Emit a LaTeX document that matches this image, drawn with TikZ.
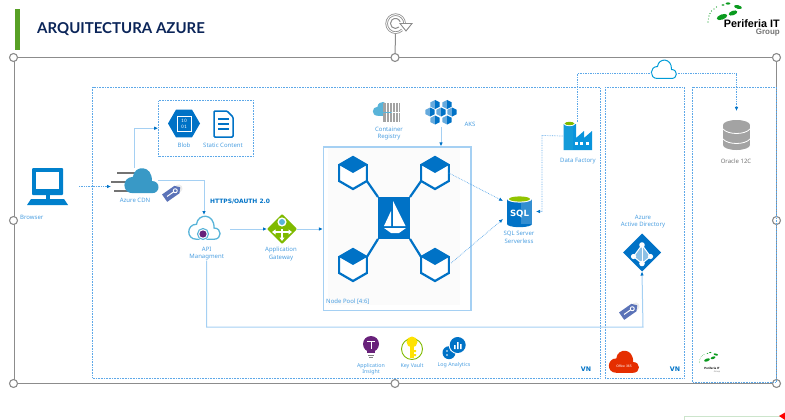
\documentclass[tikz,border=0pt]{standalone}
\usepackage{fontspec}
\setmainfont{Noto Sans}
\newfontfamily\titlefont{Lato}
\newfontfamily\logofont{Liberation Sans}
\newfontfamily\widefont{DejaVu Sans}
\usetikzlibrary{arrows.meta,calc,shapes.geometric}

\definecolor{azblue}{HTML}{0072C6}
\definecolor{azlabel}{HTML}{4A9EE0}
\definecolor{wirelight}{HTML}{A5D0F3}
\definecolor{dotblue}{HTML}{5DA8E8}
\definecolor{framegrey}{HTML}{8C8C8C}
\definecolor{navy}{HTML}{0B2559}
\definecolor{barlime}{HTML}{57A025}
\definecolor{azgreen}{HTML}{7FBA00}
\definecolor{azcloud}{HTML}{3999C6}
\definecolor{azsky}{HTML}{59B4D9}
\definecolor{azpurple}{HTML}{68217A}
\definecolor{tagblue}{HTML}{5B73B8}
\definecolor{logogreen}{HTML}{0A9A1E}
\definecolor{dbgrey}{HTML}{A3A3A3}

\tikzset{
	iconbox/.style={inner sep=0, outer sep=0},
	lbl/.style={inner sep=0, align=center, text=azlabel, font=\fontsize{6}{7.5}\selectfont},
	zone/.style={draw=dotblue, densely dotted, line width=0.6pt},
	wire/.style={draw=wirelight, line width=1pt, -{Latex[length=4pt,width=3.5pt,color=azblue]}},
	dotwire/.style={draw=dotblue, densely dotted, line width=0.7pt, -{Latex[length=4pt,width=3.5pt,color=azblue]}},
	handle/.style={circle, draw=framegrey, fill=white, line width=1.1pt, minimum size=8pt, inner sep=0},
	cube/.style={regular polygon, regular polygon sides=6, shape border rotate=30, minimum size=32pt, inner sep=0, outer sep=0, draw=azblue, fill=white, line width=2.2pt},
}

\def\cloudshape{(-6,9) -- (8,9) .. controls (14.5,9) and (14.5,0) .. (8,0) .. controls (8.5,-12) and (-5,-12) .. (-6,-3) .. controls (-14,-3) and (-14.5,9) .. (-6,9) -- cycle}
\def\cubetop#1{\fill[azblue] (#1.90) -- (#1.30) -- (#1.center) -- (#1.150) -- cycle;}
\def\tagicon(#1,#2){
	\begin{scope}[shift={(#1,#2)},rotate=35]
		\fill[black!8] (8,0) circle (4);
		\fill[tagblue] (-9,-4.5) -- (6,-4.5) -- (10,0) -- (6,4.5) -- (-9,4.5) -- cycle;
		\draw[white, line width=1pt] (-6,0) -- (2,0);
		\draw[white, line width=0.9pt] (4,0) circle (2);
	\end{scope}
}
\def\periferia(#1,#2)[#3]{
	\begin{scope}[shift={(#1,#2)},scale=#3]
		\fill[logogreen, rotate around={20:(0,0)}] (0,0) ellipse [x radius=5.5, y radius=2.6];
		\fill[logogreen, rotate around={20:(11,-4)}] (11,-4) ellipse [x radius=4.5, y radius=2.2];
		\fill[logogreen, rotate around={-15:(16,-10)}] (16,-10) ellipse [x radius=4, y radius=1.8];
		\fill[logogreen] (6,-13.5) ellipse [x radius=2.4, y radius=1.1];
		\fill[logogreen] (1,-12) ellipse [x radius=1.6, y radius=0.8];
		\foreach \px/\py in {-14/5,-13.6/2,-13/-1,-12/-3.5,-10.5/-6,-8/-8,-5.5/-10}
			\fill[logogreen] (\px,\py) circle (0.55);
	\end{scope}
}

\begin{document}
\begin{tikzpicture}[x=1pt,y=-1pt]
	%%%%% START %%%%%
	\useasboundingbox (0,0) rectangle (785,420);
	
	% header
	\fill[barlime] (15,9) rectangle (20,50);
	\node[inner sep=0, anchor=west, text=navy, font=\titlefont\bfseries\fontsize{15}{18}\selectfont] (title) at (37,29.5) {ARQUITECTURA AZURE};
	\periferia(722,17)[1]
	\node[inner sep=0, anchor=east, font=\logofont\bfseries\fontsize{10.8}{12}\selectfont] (logoName) at (780,24) {Periferia IT};
	\node[inner sep=0, anchor=east, text=black!55, font=\logofont\bfseries\fontsize{8}{9}\selectfont] (logoGroup) at (780,33) {Group};
	
	% selection frame
	\node[draw=framegrey, line width=1pt, minimum width=762pt, minimum height=325pt, inner sep=0] (frame) at (395,220.5) {};
	\node[iconbox, minimum size=19pt] (rotator) at (395.5,23.5) {};
	\draw[framegrey, line width=1pt] (rotator.south) -- (frame.north);
	\draw[draw=black!45, double=white, double distance=0.9pt, line width=0.8pt] (402,30) arc (45:360:9);
	\draw[draw=black!45, line width=1pt] (399,27) arc (45:340:5);
	\fill[white, draw=black!45, line width=0.9pt] (400,23.5) -- (412,23.5) -- (406,31) -- cycle;
	\foreach \hname/\hpos in {hA/north west,hB/north,hC/north east,hD/west,hE/east,hF/south west,hG/south,hH/south east}
		\node[handle] (\hname) at (frame.\hpos) {};
	
	% zones
	\draw[zone] (92.5,87) rectangle (600,378);
	\draw[zone] (605,87) rectangle (684,378);
	\draw[zone] (692,87) rectangle (776,382);
	\node[zone, minimum width=95pt, minimum height=55.5pt, inner sep=0] (storage) at (206,128.25) {};
	\node[inner sep=0, text=azblue, font=\widefont\bfseries\fontsize{6.3}{8}\selectfont] (vnA) at (586,369) {VN};
	\node[inner sep=0, text=azblue, font=\widefont\bfseries\fontsize{6.3}{8}\selectfont] (vnB) at (675,369) {VN};
	
	% browser
	\node[iconbox, minimum width=41pt, minimum height=37pt] (browser) at (47.5,186.5) {};
	\fill[azblue!90!cyan, rounded corners=1pt] (32,168) rectangle (63,195);
	\fill[white] (36,172) rectangle (59,189);
	\fill[azblue!90!cyan] (46,194) rectangle (50,199);
	\fill[azblue!90!cyan] (31,199) -- (64,199) -- (68,205) -- (27,205) -- cycle;
	\node[lbl, anchor=west] (browserLbl) at (20,217) {Browser};
	
	% cdn
	\node[iconbox, minimum width=47pt, minimum height=25pt] (cdn) at (134.5,180.5) {};
	\draw[black!55, line width=2.4pt] (117,173) -- (136,173);
	\draw[black!55, line width=2.4pt] (111,182) -- (128,182);
	\draw[black!55, line width=2.4pt] (114,191) -- (130,191);
	\begin{scope}[shift={(141,181)},scale=1.36]
		\fill[azcloud] \cloudshape;
	\end{scope}
	\node[lbl] (cdnLbl) at (135,200) {Azure CDN};
	\tagicon(172,193)
	\node[inner sep=0, anchor=west, text=azblue, font=\widefont\bfseries\fontsize{5.95}{7}\selectfont] (httpsLbl) at (210,202) {HTTPS/OAUTH 2.0};
	
	% storage
	\node[regular polygon, regular polygon sides=6, minimum size=32pt, inner sep=0, fill=azblue] (blob) at (184,123.5) {};
	\draw[white, line width=0.7pt] (177,116) rectangle (191,131.5);
	\node[inner sep=0, align=center, text=white, font=\ttfamily\fontsize{5.5}{6}\selectfont] (blobBits) at (184,123.5) {10\\01};
	\node[lbl] (blobLbl) at (184,145.5) {Blob};
	\node[iconbox, minimum width=20pt, minimum height=28pt] (static) at (223,124) {};
	\draw[azblue, fill=white, line width=1.5pt, rounded corners=1pt] (214,111) -- (227,111) -- (233,117) -- (233,137) -- (214,137) -- cycle;
	\foreach \ly in {119,124,129}
		\draw[azblue, line width=1.4pt] (218,\ly) -- (229,\ly);
	\node[lbl] (staticLbl) at (223,145.5) {Static Content};
	
	% api
	\node[iconbox, minimum width=32pt, minimum height=28pt] (api) at (204,229) {};
	\begin{scope}[shift={(204,228)},scale=1.25]
		\draw[azsky, line width=1.3pt] \cloudshape;
	\end{scope}
	\fill[white] (203,234) circle (6.5);
	\draw[azsky, line width=1.1pt] (203,234) circle (5.5);
	\fill[azpurple] (203,234) circle (3.6);
	\node[lbl] (apiLbl) at (206.7,253.7) {API\\Managment};
	
	% gateway
	\node[diamond, fill=azgreen, minimum size=30pt, inner sep=0, outer sep=0, rounded corners=1pt] (gateway) at (282,229) {};
	\draw[white, line width=1.5pt, -{Triangle[length=3.5pt,width=5pt]}] (282,229) -- (282,241);
	\draw[white, line width=1.5pt, -{Triangle[length=3.5pt,width=5pt]}] (282,232) -- (272,232);
	\draw[white, line width=1.5pt, -{Triangle[length=3.5pt,width=5pt]}] (282,232) -- (292,232);
	\fill[white] (282,222) circle (4.6);
	\fill[azsky] (282,222) circle (3);
	\node[lbl] (gatewayLbl) at (281,253.7) {Application\\Gateway};
	
	% node pool
	\fill[black!1.5] (328,148) rectangle (460,305);
	\node[draw=wirelight, line width=1.1pt, minimum width=147.5pt, minimum height=163.5pt, inner sep=0] (pool) at (397.25,228.75) {};
	\node[fill=azblue, minimum width=32pt, minimum height=42pt, inner sep=0, outer sep=0] (istio) at (394,218) {};
	\node[cube] (cubeTL) at (353,173) {};
	\node[cube] (cubeTR) at (435,173) {};
	\node[cube] (cubeBL) at (353,265) {};
	\node[cube] (cubeBR) at (435,265) {};
	\cubetop{cubeTL}
	\cubetop{cubeTR}
	\cubetop{cubeBL}
	\cubetop{cubeBR}
	\draw[azblue, line width=2.2pt] (istio.north west) -- (cubeTL.330);
	\draw[azblue, line width=2.2pt] (istio.north east) -- (cubeTR.210);
	\draw[azblue, line width=2.2pt] (istio.south west) -- (cubeBL.30);
	\draw[azblue, line width=2.2pt] (istio.south east) -- (cubeBR.150);
	\fill[white] (393,201) -- (405.5,226) -- (393,226) -- cycle;
	\fill[white] (391,211) -- (391,226) -- (384,226) -- cycle;
	\fill[white] (384,228) -- (406,228) -- (399,233) -- (391,233) -- cycle;
	\node[lbl, anchor=west] (poolLbl) at (326,302) {Node Pool [4:6]};
	
	% registry and aks
	\node[iconbox, minimum width=27pt, minimum height=24pt] (registry) at (386.5,110) {};
	\begin{scope}[shift={(382,109)},scale=0.75]
		\fill[azsky] \cloudshape;
	\end{scope}
	\fill[dbgrey] (383,103) rectangle (400,112);
	\fill[dbgrey] (383,113) rectangle (400,122);
	\foreach \sx in {386,389,392,395,398}
		\draw[white, line width=0.4pt] (\sx,103) -- (\sx,112) (\sx,113) -- (\sx,122);
	\node[lbl] (registryLbl) at (389,133.5) {Container\\Registry};
	
	\node[iconbox, minimum width=32pt, minimum height=24pt] (aks) at (441,112) {};
	\foreach \ax/\ay in {435/104.5,447/104.5,430/112,441/112,452/112,435/120,447/120}{
		\fill[azblue!60!white] (\ax,\ay-4.5) -- (\ax-4.6,\ay-2.2) -- (\ax-4.6,\ay+2.2) -- (\ax,\ay+4.5) -- cycle;
		\fill[azblue] (\ax,\ay-4.5) -- (\ax+4.6,\ay-2.2) -- (\ax+4.6,\ay+2.2) -- (\ax,\ay+4.5) -- cycle;
	}
	\node[lbl] (aksLbl) at (470,124.5) {AKS};
	
	% data factory
	\node[iconbox, minimum width=29pt, minimum height=28pt] (factory) at (577.5,136) {};
	\fill[cyan!80!blue] (563.5,124) -- (576,124) -- (576,138) -- (584,131) -- (584,138) -- (592,131) -- (592,150) -- (563.5,150) -- cycle;
	\fill[cyan!70!azblue] (563.5,124) rectangle (573,150);
	\fill[white] (569.5,123.5) ellipse [x radius=6, y radius=2.6];
	\fill[azgreen] (569.5,123.5) ellipse [x radius=4.8, y radius=1.7];
	\foreach \wx in {575,580,586}
		\fill[white] (\wx,142) rectangle (\wx+3,145);
	\node[lbl] (factoryLbl) at (578,161) {Data Factory};
	
	% sql
	\node[iconbox, minimum width=25pt, minimum height=31pt] (sql) at (519.5,211.5) {};
	\fill[azblue] (507,199) rectangle (521,224);
	\fill[azblue!80!white] (521,199) rectangle (532,224);
	\fill[azblue] (507,224) arc (-180:-360:12.5 and 3.2) -- cycle;
	\fill[white] (519.5,199) ellipse [x radius=12.5, y radius=3.6];
	\fill[azgreen!85!yellow] (519.5,199) ellipse [x radius=10.5, y radius=2.6];
	\node[inner sep=0, text=white, font=\widefont\bfseries\fontsize{8.6}{11}\selectfont] (sqlWord) at (519.5,214) {SQL};
	\node[lbl] (sqlLbl) at (519,237.2) {SQL Server\\Serverless};
	
	% oracle
	\node[iconbox, minimum width=27pt, minimum height=30pt] (oracle) at (736.5,135) {};
	\fill[dbgrey] (723,125) rectangle (750,145);
	\fill[dbgrey] (736.5,125) ellipse [x radius=13.5, y radius=5];
	\fill[dbgrey] (736.5,145) ellipse [x radius=13.5, y radius=5];
	\draw[white, line width=0.8pt] (723,129) .. controls (728,135) and (745,135) .. (750,129);
	\draw[white, line width=0.8pt] (723,139) .. controls (728,145) and (745,145) .. (750,139);
	\node[lbl, text=black!55] (oracleLbl) at (736,161) {Oracle 12C};
	
	% cloud
	\node[iconbox, minimum width=25pt, minimum height=26pt] (wan) at (663.5,73) {};
	\begin{scope}[shift={(663.5,69.5)}]
		\draw[azblue!70!cyan, fill=white, line width=1pt] \cloudshape;
	\end{scope}
	
	% azure ad
	\node[diamond, fill=azblue, minimum size=38pt, inner sep=0, outer sep=0] (aad) at (642,252.5) {};
	\fill[azblue!45!white] (642,245) -- (633.5,256.5) -- (642,263.5) -- (650.5,256.5) -- cycle;
	\draw[white, line width=1pt] (642,245) -- (633.5,256.5) -- (642,263.5) -- (650.5,256.5) -- cycle;
	\draw[white, line width=1pt] (642,245) -- (642,263.5);
	\fill[white] (642,245) circle (2.8) (633.5,256.5) circle (2.6) (642,263.5) circle (2.8) (650.5,256.5) circle (2.6);
	\node[lbl] (aadLbl) at (643,221.5) {Azure\\Active Directory};
	\tagicon(629,311)
	
	% bottom services
	\node[iconbox, minimum width=16pt, minimum height=22pt] (insight) at (371,348) {};
	\fill[azpurple] (371,344) circle (8);
	\fill[azpurple] (367,348) rectangle (375,353);
	\draw[white, line width=1pt] (367,341) -- (375,341) (371,341) -- (371,349);
	\draw[black!50, line width=0.9pt] (368,355) -- (374,355) (369,357.5) -- (373,357.5);
	\node[lbl, font=\fontsize{5.3}{6.6}\selectfont] (insightLbl) at (371,369) {Application\\Insight};
	
	\node[iconbox, minimum size=21pt] (keyvault) at (412,349) {};
	\draw[azgreen, line width=0.9pt] (412,349) circle (10.5);
	\fill[yellow!85!orange] (412,342) circle (5.5);
	\fill[yellow!85!orange] (410,345) rectangle (414,358);
	\fill[yellow!85!orange] (414,350) rectangle (416,352) (414,354) rectangle (416,356);
	\node[lbl, font=\fontsize{5.3}{6.6}\selectfont] (keyvaultLbl) at (412,366.5) {Key Vault};
	
	\node[iconbox, minimum size=24pt] (loganalytics) at (454,349) {};
	\fill[azblue] (449,352.7) circle (6.5);
	\foreach \dx/\dy in {447/351,451/350,447/355}
		\fill[white] (\dx,\dy) circle (0.9);
	\fill[white] (457.7,345) circle (9);
	\fill[azblue] (457.7,345) circle (8);
	\fill[white] (454,345) rectangle (455.5,349) (457,342) rectangle (458.5,349) (460,344) rectangle (461.5,349);
	\node[lbl, font=\fontsize{5.3}{6.6}\selectfont] (logLbl) at (454,365.5) {Log Analytics};
	
	% office and small logo
	\node[iconbox, minimum width=30pt, minimum height=18pt] (office) at (623,363) {};
	\begin{scope}[shift={(623.5,362)},scale=1.2]
		\fill[orange!40!red!90!black] \cloudshape;
	\end{scope}
	\node[inner sep=0, text=white, font=\logofont\fontsize{3.4}{4}\selectfont] (officeWord) at (624,366) {Office 365};
	\periferia(707,360)[0.55]
	\node[inner sep=0, font=\logofont\bfseries\fontsize{3}{3.6}\selectfont] (miniName) at (712,368) {Periferia IT};
	\node[inner sep=0, text=black!55, font=\logofont\fontsize{2.2}{3}\selectfont] (miniGroup) at (717,371.5) {Group};
	
	% connectors
	\coordinate (sqlUpper) at (503,201);
	\coordinate (sqlLower) at (503,219);
	\coordinate (dfBend) at (542,135.5);
	\coordinate (aadBend) at (643,327);
	\draw[dotwire, shorten <=11pt] (browser.east) -- (browser.east -| cdn.west);
	\draw[wire] (cdn.north) |- (storage.west);
	\draw[wire] (cdn.east) -| (api.north);
	\draw[wire, shorten <=10pt] (api.east) -- (gateway.west);
	\draw[wire] (gateway.east) -- (gateway.east -| pool.west);
	\draw[wire, shorten <=3pt] (aks.south) -- (aks.south |- pool.north);
	\draw[dotwire] (cubeTR.east) -- (sqlUpper);
	\draw[dotwire, shorten <=3pt] (cubeBR.east) -- (sqlLower);
	\draw[dotwire, shorten >=4pt] (factory.west) -- (dfBend) |- (sql.east);
	\draw[dotwire, -] (factory.north) |- (wan.west);
	\draw[dotwire, shorten >=9pt] (wan.east) -| (oracle.north);
	\draw[wire] (apiLbl.south) |- (aadBend) -- (aad.south);
	
	% next slide stub
	\draw[green!50!black!20, line width=1pt] (684,420) |- (781,416);
	\fill[red] (779,416) -- (785,412.5) -- (785,420) -- cycle;
	
	%%%%% END %%%%%
\end{tikzpicture}
\end{document}
